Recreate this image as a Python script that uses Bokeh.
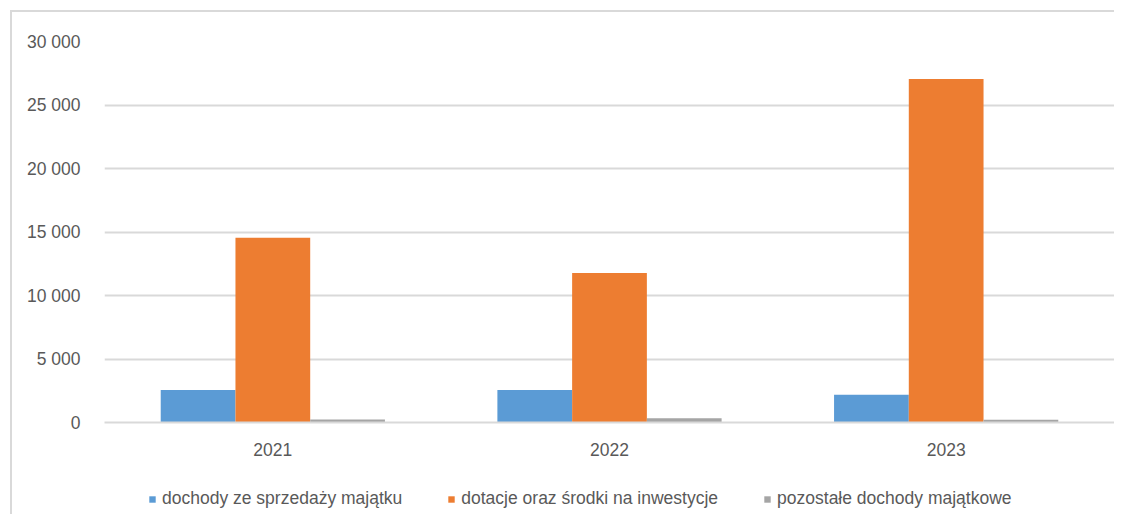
from bokeh.plotting import figure
from bokeh.layouts import column
from bokeh.models import FactorRange, Range1d, FixedTicker, Legend, LegendItem, ColumnDataSource
from bokeh.transform import dodge
from bokeh.embed import file_html
from bokeh.resources import INLINE

years = ["2021", "2022", "2023"]
sprzedaz = [2550, 2550, 2180]
dotacje = [14550, 11780, 27050]
pozostale = [230, 340, 220]
series_names = ["dochody ze sprzedaży majątku", "dotacje oraz środki na inwestycje", "pozostałe dochody majątkowe"]
colors = ["#5B9BD5", "#ED7D31", "#A5A5A5"]
y_ticks = [0, 5000, 10000, 15000, 20000, 25000, 30000]
y_tick_labels = ["0", "5 000", "10 000", "15 000", "20 000", "25 000", "30 000"]

FONT = "Liberation Sans"
FS = "17.5px"
TXT = "#595959"
GRID = "#d9d9d9"

src = ColumnDataSource(dict(years=years, a=sprzedaz, b=dotacje, c=pozostale))
cols = ["a", "b", "c"]
bw = 0.222
offsets = [-bw, 0, bw]

p = figure(x_range=FactorRange(factors=years, range_padding=0), y_range=Range1d(0, 30000),
           width=1102, height=450, output_backend="svg", toolbar_location=None,
           min_border_left=92, min_border_right=0, min_border_top=29, min_border_bottom=40)
p.outline_line_color = None

for col, off, c in zip(cols, offsets, colors):
    p.vbar(x=dodge("years", off, range=p.x_range), top=col, width=bw, source=src, color=c, line_color=None)

p.yaxis.ticker = FixedTicker(ticks=y_ticks)
p.yaxis.major_label_overrides = {t: l for t, l in zip(y_ticks, y_tick_labels)}
p.yaxis.axis_line_color = None
p.yaxis.major_tick_line_color = None
p.yaxis.minor_tick_line_color = None
p.yaxis.major_tick_out = 0
p.yaxis.major_label_standoff = 24
p.yaxis.major_label_text_font = FONT
p.yaxis.major_label_text_font_size = FS
p.yaxis.major_label_text_color = TXT

p.xaxis.axis_line_color = GRID
p.xaxis.axis_line_width = 2
p.xaxis.major_tick_line_color = None
p.xaxis.minor_tick_line_color = None
p.xaxis.major_tick_out = 0
p.xaxis.major_label_standoff = 20
p.xaxis.major_label_text_font = FONT
p.xaxis.major_label_text_font_size = FS
p.xaxis.major_label_text_color = TXT

p.xgrid.grid_line_color = None
p.ygrid.grid_line_color = GRID
p.ygrid.grid_line_width = 2

# legend strip: zero-width bars so that only the legend shows
p2 = figure(width=1102, height=52, x_range=p.x_range, y_range=Range1d(-2, -1),
            output_backend="svg", toolbar_location=None, min_border=0)
p2.outline_line_color = None
p2.axis.visible = False
p2.grid.visible = False
lr = [p2.vbar(x=dodge("years", off, range=p2.x_range), top=col, width=0, source=src, color=c, line_color=None)
      for col, off, c in zip(cols, offsets, colors)]

legend = Legend(items=[LegendItem(label=n, renderers=[r]) for n, r in zip(series_names, lr)],
                orientation="horizontal", location=(44, 5))
legend.label_text_font = FONT
legend.label_text_font_size = FS
legend.label_text_color = TXT
legend.glyph_width = 8
legend.glyph_height = 8
legend.label_standoff = 6
legend.spacing = 45
legend.border_line_color = None
legend.background_fill_alpha = 0
legend.margin = 0
legend.padding = 0
p2.add_layout(legend, "center")

inner = column(p, p2, spacing=0, styles={"border-top": "2px solid " + GRID, "border-left": "2px solid " + GRID})
layout = column(inner, styles={"padding": "10px 0 0 10px"})
open("out.html", "w").write(file_html(layout, INLINE))
